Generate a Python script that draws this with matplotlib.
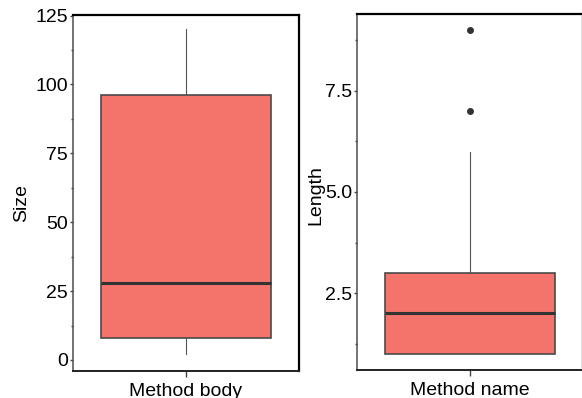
import matplotlib.pyplot as plt
from matplotlib.ticker import MultipleLocator

plt.rcParams['font.family'] = ['Liberation Sans', 'DejaVu Sans']

# box statistics
categories = ['Method body', 'Method name']
ylabels = ['Size', 'Length']
q1 = [8, 1]
med = [28, 2]
q3 = [96, 3]
whislo = [2, 1]
whishi = [120, 6]
fliers = [[], [7, 9]]

yticks = [[0, 25, 50, 75, 100, 125], [2.5, 5.0, 7.5]]
yticklabels = [['0', '25', '50', '75', '100', '125'], ['2.5', '5.0', '7.5']]
yminor = [12.5, 1.25]
ylims = [(-4, 125.2), (0.6, 9.4)]

fill = '#F4736B'

fig = plt.figure(figsize=(5.82, 3.98), dpi=100)
axes = [fig.add_axes([0.1254, 0.0678, 0.3883, 0.8945]),
        fig.add_axes([0.6134, 0.0704, 0.3883, 0.8945])]
label_xy = [(-0.19, 0.472), (-0.146, 0.4916)]

for i, ax in enumerate(axes):
    stats = [dict(med=med[i], q1=q1[i], q3=q3[i], whislo=whislo[i],
                  whishi=whishi[i], fliers=fliers[i], label=categories[i])]
    ax.bxp(stats, positions=[1], widths=0.9, patch_artist=True, showcaps=False,
           boxprops=dict(facecolor=fill, edgecolor='#4a4a4a', linewidth=1.2),
           medianprops=dict(color='#333333', linewidth=2.2),
           whiskerprops=dict(color='#555555', linewidth=0.8),
           flierprops=dict(marker='o', markerfacecolor='#333333',
                           markeredgecolor='#333333', markersize=4))
    ax.set_xlim(0.4, 1.6)
    ax.set_ylim(*ylims[i])
    ax.set_yticks(yticks[i])
    ax.set_yticklabels(yticklabels[i])
    ax.yaxis.set_minor_locator(MultipleLocator(yminor[i]))
    ax.set_xticks([1])
    ax.set_xticklabels([categories[i]])
    ax.set_ylabel(ylabels[i], fontsize=14)
    ax.yaxis.set_label_coords(*label_xy[i])
    ax.tick_params(axis='y', which='major', length=2.5, width=1, color='#444444',
                   pad=1.2, labelsize=14)
    ax.tick_params(axis='y', which='minor', length=1.5, width=1, color='#444444')
    ax.tick_params(axis='x', length=4, width=1, color='#444444', pad=4.5,
                   labelsize=14)
    for side in ['top', 'right']:
        ax.spines[side].set_linewidth(1.6)
        ax.spines[side].set_color('black')
    ax.spines['bottom'].set_linewidth(1.4)
    ax.spines['bottom'].set_color('#222222')
    ax.spines['left'].set_linewidth(1.1)
    ax.spines['left'].set_color('#4d4d4d')

fig.savefig('out.png', dpi=100)
